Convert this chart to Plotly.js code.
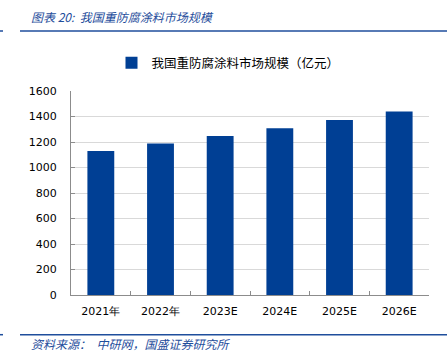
<!DOCTYPE html>
<html>
<head>
<meta charset="utf-8">
<script src="https://cdn.plot.ly/plotly-3.0.1.min.js"></script>
<style>html,body{margin:0;padding:0;background:#fff;}#chart{width:447px;height:357px;}</style>
</head>
<body>
<div id="chart"></div>
<script>
const categories = ["2021年", "2022年", "2023E", "2024E", "2025E", "2026E"];
const marketSize = [1130, 1189, 1247, 1307, 1372, 1440];
const yTicks = [0, 200, 400, 600, 800, 1000, 1200, 1400, 1600];
const seriesName = "我国重防腐涂料市场规模（亿元）";
const chartTitle = "图表 20:  我国重防腐涂料市场规模";
const sourceText = "资料来源：  中研网，国盛证券研究所";

const L = 71, R = 429, T = 91, B = 295;
const px = x => (x - L) / (R - L);
const py = y => (B - y) / (B - T);
const blue = "#1f4e9c";
const cjk = "'Noto Sans CJK SC', 'Noto Sans', sans-serif";

const trace = {
  type: "bar",
  x: categories,
  y: marketSize,
  name: seriesName,
  marker: {color: "#003f94", line: {width: 0}},
  hoverinfo: "x+y"
};

const layout = {
  width: 447, height: 357,
  margin: {l: L, r: 447 - R, t: T, b: 357 - B, pad: 0},
  paper_bgcolor: "#fff", plot_bgcolor: "#fff",
  bargap: 0.55,
  showlegend: true,
  legend: {
    orientation: "h", x: px(228), xanchor: "center", y: py(63), yanchor: "middle",
    font: {family: cjk, size: 12.5, color: "#000"}, itemwidth: 30, bgcolor: "rgba(0,0,0,0)"
  },
  font: {family: "'DejaVu Sans', sans-serif", size: 11, color: "#000"},
  xaxis: {
    type: "category",
    showline: true, linecolor: "#8c8c8c", linewidth: 1,
    ticks: "inside", ticklen: 4, tickcolor: "#8c8c8c", tickson: "boundaries",
    showgrid: false, zeroline: false,
    tickfont: {family: "'DejaVu Sans', sans-serif", size: 11, color: "#000"},
    ticklabelstandoff: 6
  },
  yaxis: {
    range: [0, 1600], tickvals: yTicks,
    showline: true, linecolor: "#8c8c8c", linewidth: 1,
    ticks: "inside", ticklen: 4, tickcolor: "#8c8c8c",
    showgrid: true, gridcolor: "#d9d9d9", gridwidth: 1, zeroline: false,
    tickfont: {family: "'DejaVu Sans', sans-serif", size: 11, color: "#000"},
    ticklabelstandoff: 11
  },
  shapes: [
    {type: "line", xref: "paper", yref: "paper", x0: px(20), x1: px(447), y0: py(31), y1: py(31), line: {color: blue, width: 1.5}},
    {type: "line", xref: "paper", yref: "paper", x0: px(0), x1: px(3), y0: py(31), y1: py(31), line: {color: blue, width: 1.5}},
    {type: "line", xref: "paper", yref: "paper", x0: px(20), x1: px(447), y0: py(334.7), y1: py(334.7), line: {color: blue, width: 1.5}},
    {type: "line", xref: "paper", yref: "paper", x0: px(0), x1: px(3), y0: py(334.7), y1: py(334.7), line: {color: blue, width: 1.5}}
  ],
  annotations: [
    {xref: "paper", yref: "paper", x: px(29), y: py(16), xanchor: "left", yanchor: "middle", showarrow: false,
     text: "<i>" + chartTitle + "</i>", font: {family: cjk, size: 12, color: blue}},
    {xref: "paper", yref: "paper", x: px(29), y: py(343), xanchor: "left", yanchor: "middle", showarrow: false,
     text: "<i>" + sourceText + "</i>", font: {family: cjk, size: 12, color: blue}}
  ]
};

Plotly.newPlot("chart", [trace], layout, {displayModeBar: false, staticPlot: true});
</script>
</body>
</html>
